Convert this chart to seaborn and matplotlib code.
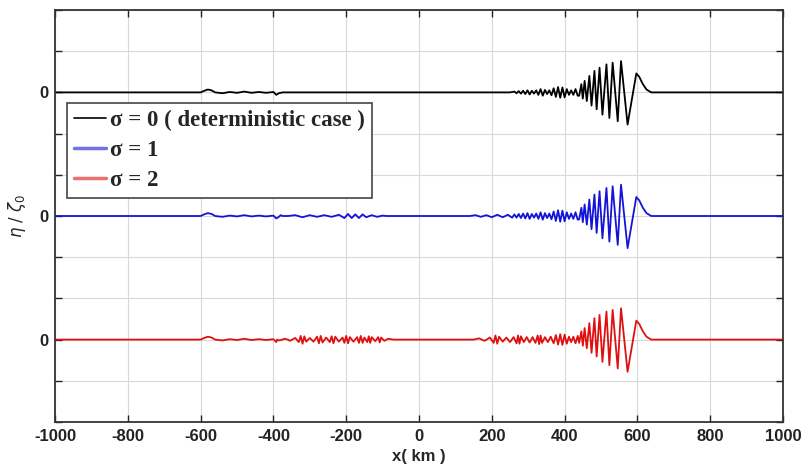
import numpy as np
import pandas as pd
import matplotlib
matplotlib.use("Agg")
import matplotlib.pyplot as plt
import seaborn as sns

# ---------------- data (in grid units) ----------------
series_labels = ["σ = 0 ( deterministic case )", "σ = 1", "σ = 2"]
series_colors = ["#000000", "#1414d8", "#e01010"]
baselines = [8, 5, 2]

x_ticks = [-1000, -800, -600, -400, -200, 0, 200, 400, 600, 800, 1000]
x_tick_labels = ["-1000", "-800", "-600", "-400", "-200", "0", "200", "400", "600", "800", "1000"]

flat_x = [-1000, 1000]
flat_y = [0.0, 0.0]

# small disturbance near x = -600 .. -380 (all three traces)
dist_x = [-620, -600, -590, -580, -570, -560, -540, -520, -500, -480, -460, -440, -420, -400, -392, -385, -375, -360]
dist_y = [0.0, 0.0, 0.04, 0.07, 0.05, 0.0, -0.02, 0.01, -0.01, 0.02, -0.01, 0.01, -0.01, 0.01, -0.06, -0.02, 0.0, 0.0]

# main dispersive wave packet (all three traces)
packet_x = [440, 446, 450, 455, 461, 468, 474, 482, 488, 496, 504, 515, 523, 532, 546, 555, 573, 597, 605, 615, 625, 638]
packet_y = [-0.08, 0.2, -0.15, 0.28, -0.21, 0.4, -0.32, 0.52, -0.41, 0.6, -0.54, 0.68, -0.62, 0.72, -0.7, 0.76, -0.78, 0.46, 0.38, 0.2, 0.07, 0.0]

# black: trailing small ripples
black_mid_x = [250, 262, 268, 274, 280, 286, 292, 298, 304, 310, 316, 322, 328, 334, 340, 346, 352, 358, 364, 370,
               376, 382, 388, 394, 400, 406, 412, 418, 424, 430, 436]
black_mid_y = [0.0, 0.02, -0.02, 0.03, -0.03, 0.04, -0.04, 0.05, -0.05, 0.04, -0.03, 0.05, -0.06, 0.08, -0.08, 0.06,
               -0.04, 0.05, -0.07, 0.1, -0.11, 0.13, -0.13, 0.12, -0.12, 0.08, -0.06, 0.05, -0.06, 0.08, -0.08]

# blue: noise left of centre and ahead of packet
blue_left_x = [-400, -380, -360, -340, -320, -300, -280, -260, -240, -220, -205, -195, -185, -175, -165, -155, -145,
               -130, -115, -100, -90]
blue_left_y = [0.0, 0.02, -0.02, 0.02, -0.03, 0.02, -0.02, 0.02, -0.02, 0.03, -0.05, 0.05, -0.05, 0.04, -0.05, 0.04,
               -0.03, 0.02, -0.02, 0.01, 0.0]
blue_mid_x = [140, 155, 170, 185, 200, 215, 230, 244, 256, 262, 268, 274, 280, 286, 292, 298, 304, 310, 316, 322, 328,
              334, 340, 346, 352, 358, 364, 370, 376, 382, 388, 394, 400, 406, 412, 418, 424, 430, 436]
blue_mid_y = [0.0, 0.02, -0.02, 0.02, -0.03, 0.03, -0.03, 0.03, -0.04, 0.04, -0.04, 0.05, -0.05, 0.06, -0.06, 0.07,
              -0.07, 0.05, -0.04, 0.06, -0.07, 0.09, -0.09, 0.07, -0.05, 0.06, -0.08, 0.11, -0.12, 0.14, -0.14, 0.13,
              -0.13, 0.09, -0.07, 0.06, -0.07, 0.09, -0.09]

# red: stronger noise left of centre and ahead of packet
red_left_x = [-390, -370, -355, -340, -330, -325, -320, -315, -310, -300, -290, -280, -275, -270, -265, -255, -245,
              -240, -235, -230, -220, -210, -205, -200, -195, -190, -180, -170, -165, -160, -155, -150, -142, -138,
              -134, -130, -120, -112, -108, -104, -95, -85, -70]
red_left_y = [0.0, 0.02, -0.03, 0.04, -0.06, 0.09, -0.1, 0.08, -0.05, 0.04, -0.05, 0.07, -0.09, 0.09, -0.07, 0.05,
              -0.06, 0.08, -0.09, 0.07, -0.05, 0.05, -0.08, 0.09, -0.09, 0.06, -0.05, 0.06, -0.08, 0.09, -0.08, 0.05,
              -0.06, 0.08, -0.08, 0.06, -0.04, 0.06, -0.07, 0.05, -0.03, 0.02, 0.0]
red_mid_x = [150, 165, 180, 195, 205, 210, 215, 220, 230, 240, 250, 260, 268, 272, 276, 280, 288, 296, 304, 312, 320,
             326, 330, 334, 338, 346, 354, 362, 370, 376, 382, 388, 394, 400, 406, 412, 418, 424, 430, 436]
red_mid_y = [0.0, 0.03, -0.03, 0.05, -0.08, 0.1, -0.1, 0.07, -0.05, 0.05, -0.06, 0.06, -0.09, 0.1, -0.1, 0.08, -0.06,
             0.06, -0.07, 0.06, -0.08, 0.1, -0.11, 0.1, -0.08, 0.06, -0.06, 0.07, -0.09, 0.11, -0.12, 0.13, -0.13,
             0.12, -0.1, 0.07, -0.06, 0.07, -0.09, 0.09]

segments = {
    series_labels[0]: [(flat_x, flat_y), (dist_x, dist_y), (black_mid_x, black_mid_y), (packet_x, packet_y)],
    series_labels[1]: [(flat_x, flat_y), (dist_x, dist_y), (blue_left_x, blue_left_y), (blue_mid_x, blue_mid_y),
                       (packet_x, packet_y)],
    series_labels[2]: [(flat_x, flat_y), (dist_x, dist_y), (red_left_x, red_left_y), (red_mid_x, red_mid_y),
                       (packet_x, packet_y)],
}

frames = []
for lab, base in zip(series_labels, baselines):
    xs, ys = [], []
    for sx, sy in segments[lab]:
        xs += list(sx)
        ys += list(sy)
    d = pd.DataFrame({"x": xs, "y": np.array(ys) + base, "series": lab})
    d = d.drop_duplicates("x").sort_values("x")
    frames.append(d)
df = pd.concat(frames, ignore_index=True)

# ---------------- plot ----------------
sns.set_theme(style="white")
plt.rcParams["font.family"] = ["Liberation Sans", "DejaVu Sans"]

fig = plt.figure(figsize=(8.07, 4.71), dpi=100)
ax = fig.add_axes([55 / 807, 1 - 422 / 471, 728 / 807, 412 / 471])

sns.lineplot(data=df, x="x", y="y", hue="series", hue_order=series_labels,
             palette=dict(zip(series_labels, series_colors)), estimator=None, sort=True,
             linewidth=1.3, ax=ax, legend=True)

ax.set_xlim(-1000, 1000)
ax.set_ylim(0, 10)
ax.set_xticks(x_ticks)
ax.set_xticklabels(x_tick_labels, fontsize=12, fontweight="bold")
ax.set_yticks(range(0, 11))
ax.set_yticklabels(["0" if v in baselines else "" for v in range(0, 11)], fontsize=12, fontweight="bold")
ax.grid(True, color="#d8d8d8", linewidth=0.8)
ax.set_axisbelow(True)
ax.tick_params(direction="in", length=5, width=1, top=True, right=True, bottom=True, left=True,
               colors="#222222", pad=5)
for sp in ax.spines.values():
    sp.set_color("#333333")
    sp.set_linewidth(1.3)

ax.set_xlabel("x( km )", fontsize=12, fontweight="bold", labelpad=4)
ax.set_ylabel(r"$\eta\ /\ \zeta_0$", fontsize=12, labelpad=8)

handles, labels = ax.get_legend_handles_labels()
leg = ax.legend(handles, labels, loc="upper left", bbox_to_anchor=(0.016, 0.775), borderaxespad=0,
                frameon=True, fancybox=False, edgecolor="#444444", framealpha=1,
                handlelength=1.4, handletextpad=0.2, labelspacing=0.4, borderpad=0.3,
                prop={"family": "Liberation Serif", "weight": "bold", "size": 16.5})
leg.get_frame().set_linewidth(1.2)
for i, ln in enumerate(leg.get_lines()):
    ln.set_linewidth(1.2 if i == 0 else 2.5)
    if i > 0:
        ln.set_alpha(0.6)

fig.savefig("out.png", dpi=100)
